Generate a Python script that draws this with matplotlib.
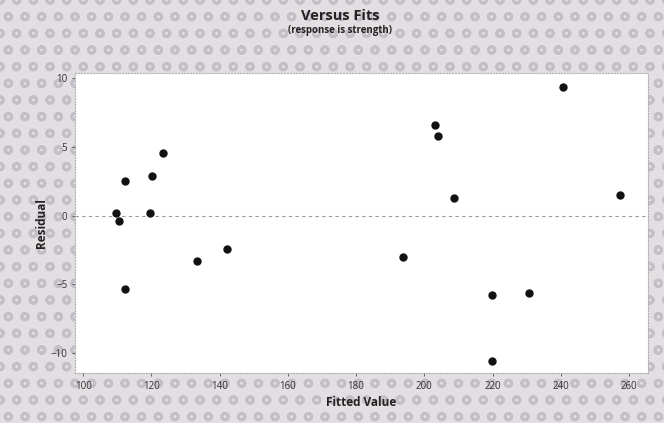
import numpy as np
import matplotlib
matplotlib.use("Agg")
import matplotlib.pyplot as plt
from matplotlib.patches import Rectangle

# Residuals versus fitted values (response is strength)
fitted = [109.6, 110.5, 112.3, 112.3, 120.1, 119.5, 123.3, 133.3, 142.1,
          193.8, 203.1, 204.1, 208.7, 219.8, 219.8, 230.7, 240.6, 257.4]
residual = [0.16, -0.4, 2.53, -5.32, 2.87, 0.16, 4.52, -3.29, -2.39,
            -3.0, 6.58, 5.78, 1.29, -5.78, -10.56, -5.61, 9.32, 1.49]

x_ticks = [100, 120, 140, 160, 180, 200, 220, 240, 260]
y_ticks = [-10, -5, 0, 5, 10]

plt.rcParams['font.family'] = ['Open Sans', 'DejaVu Sans']
plt.rcParams['hatch.linewidth'] = 2.0

fig = plt.figure(figsize=(6.64, 4.23), dpi=100)
fig.patch.set_facecolor('#e2dee2')
# textured scan background, kept behind the axes
fig.patches.append(Rectangle((0, 0), 1, 1, transform=fig.transFigure,
                             facecolor='none', edgecolor='#c4bec6',
                             hatch='o', linewidth=0, zorder=-5))

ax = fig.add_axes([0.113, 0.118, 0.863, 0.709])
ax.set_facecolor('white')

ax.axhline(0, color='#9a9a9a', linestyle=(0, (3, 3)), linewidth=0.8, zorder=1)
ax.plot(fitted, residual, 'o', color='#111111', markersize=5, zorder=3)

ax.set_xlim(97.6, 265.6)
ax.set_ylim(-11.45, 10.36)
ax.set_xticks(x_ticks)
ax.set_yticks(y_ticks)
ax.tick_params(labelsize=7, colors='#333333', length=2, width=0.5)

for s in ax.spines.values():
    s.set_color('#b0b0b0')
    s.set_linestyle(':')
    s.set_linewidth(0.8)

ax.set_xlabel('Fitted Value', fontsize=8.5, fontweight='bold', color='#222222', labelpad=3)
ax.set_ylabel('Residual', fontsize=8.5, fontweight='bold', color='#222222', labelpad=2)

fig.text(0.512, 0.962, 'Versus Fits', ha='center', va='center',
         fontsize=10.5, fontweight='bold', color='#222222')
fig.text(0.512, 0.928, '(response is strength)', ha='center', va='center',
         fontsize=7, fontweight='bold', color='#222222')

fig.savefig('out.png', dpi=100, facecolor=fig.get_facecolor())
